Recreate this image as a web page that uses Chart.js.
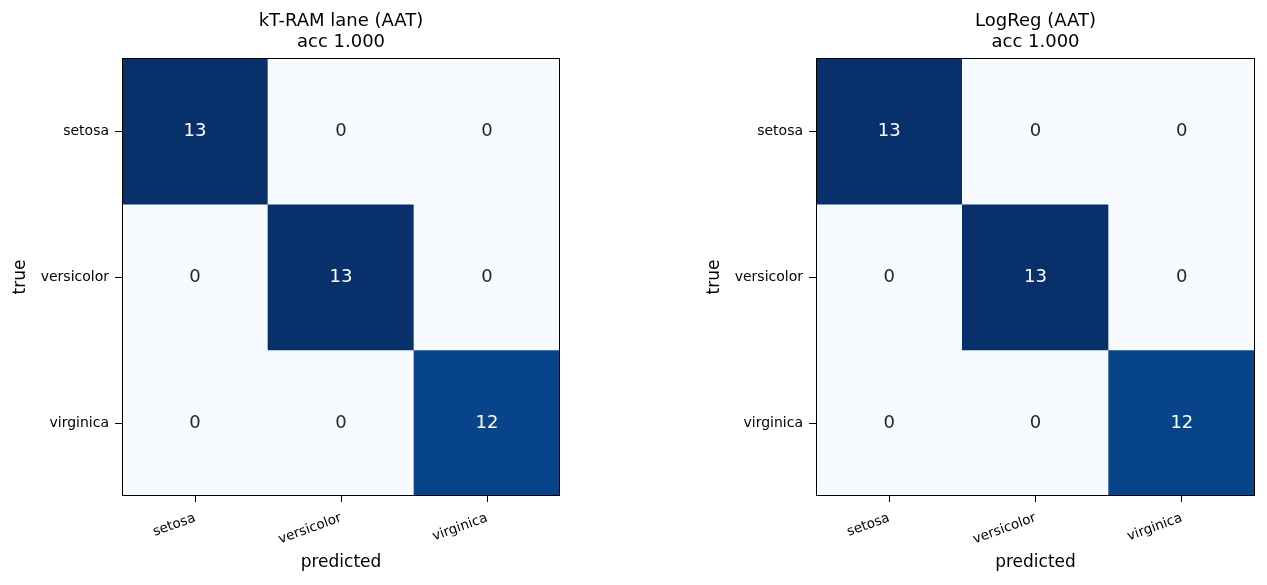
<!DOCTYPE html>
<html>
<head>
<meta charset="utf-8">
<script src="https://cdn.jsdelivr.net/npm/chart.js@4"></script>
<style>
  html, body { margin: 0; padding: 0; background: #fff; overflow: hidden; }
  .panel { position: absolute; top: 0; height: 585px; }
</style>
</head>
<body>
<div class="panel" id="p1" style="left:0;width:633px"><canvas id="c1"></canvas></div>
<div class="panel" id="p2" style="left:694px;width:573px"><canvas id="c2"></canvas></div>
<script>
// class names (both axes)
const classes = ['setosa', 'versicolor', 'virginica'];

// confusion matrices, rows = true, cols = predicted
const ktramCounts = [
  [13, 0, 0],
  [0, 13, 0],
  [0, 0, 12]
];
const logregCounts = [
  [13, 0, 0],
  [0, 13, 0],
  [0, 0, 12]
];

const ktramTitle = ['kT-RAM lane (AAT)', 'acc 1.000'];
const logregTitle = ['LogReg (AAT)', 'acc 1.000'];

Chart.defaults.font.family = '"DejaVu Sans", sans-serif';
Chart.defaults.color = '#000';

// matplotlib "Blues" anchors
const blues = ['#f7fbff', '#deebf7', '#c6dbef', '#9ecae1', '#6baed6', '#4292c6', '#2171b5', '#08519c', '#08306b'];
function hex(c) { return [1, 3, 5].map(i => parseInt(c.substr(i, 2), 16)); }
function bluesColor(t) {
  t = Math.max(0, Math.min(1, t));
  const pos = t * (blues.length - 1);
  const i = Math.min(Math.floor(pos), blues.length - 2);
  const f = pos - i;
  const a = hex(blues[i]), b = hex(blues[i + 1]);
  const rgb = a.map((v, k) => Math.round(v + (b[k] - v) * f));
  return `rgb(${rgb.join(',')})`;
}

// count labels inside the cells
const cellText = {
  id: 'cellText',
  afterDatasetsDraw(chart, args, opts) {
    const { ctx, scales: { x, y } } = chart;
    const m = opts.matrix;
    const max = Math.max(...m.flat());
    ctx.save();
    ctx.font = '18px "DejaVu Sans", sans-serif';
    ctx.textAlign = 'center';
    ctx.textBaseline = 'middle';
    m.forEach((row, i) => row.forEach((v, j) => {
      ctx.fillStyle = v > max / 2 ? '#fff' : '#262626';
      ctx.fillText(String(v), x.getPixelForValue(j), y.getPixelForValue(i + 0.5));
    }));
    ctx.restore();
  }
};

const frame = {
  id: 'frame',
  afterDraw(chart) {
    const { ctx, chartArea: a } = chart;
    ctx.save();
    ctx.strokeStyle = '#000';
    ctx.lineWidth = 1;
    ctx.strokeRect(Math.round(a.left) + 0.5, Math.round(a.top) + 0.5,
      Math.round(a.right - a.left) - 1, Math.round(a.bottom - a.top) - 1);
    ctx.restore();
  }
};

function makeMatrix(canvasId, matrix, title, padRight) {
  const max = Math.max(...matrix.flat());
  const datasets = matrix.map((row, i) => ({
    data: row.map(() => [i, i + 1]),
    backgroundColor: row.map(v => bluesColor(v / max)),
    borderWidth: 0,
    grouped: false,
    barPercentage: 1,
    categoryPercentage: 1
  }));

  return new Chart(document.getElementById(canvasId), {
    type: 'bar',
    data: { labels: classes, datasets: datasets },
    options: {
      responsive: true,
      maintainAspectRatio: false,
      animation: false,
      layout: { padding: { left: 0, right: padRight, top: 0, bottom: 0 } },
      plugins: {
        legend: { display: false },
        tooltip: { enabled: false },
        title: {
          display: true,
          text: title,
          fullSize: false,
          color: '#000',
          font: { size: 18, weight: 'normal', lineHeight: 1.17 },
          padding: { top: 11, bottom: 5 }
        },
        cellText: { matrix: matrix }
      },
      scales: {
        x: {
          type: 'category',
          offset: true,
          afterFit(s) { s.height = 89; },
          grid: { offset: false, drawOnChartArea: false, tickLength: 6, color: '#000' },
          border: { display: false },
          ticks: { font: { size: 13.5 }, color: '#000', minRotation: 20, maxRotation: 20, padding: 8 },
          title: { display: true, text: 'predicted', font: { size: 17 }, color: '#000', padding: { top: 0, bottom: 12 } }
        },
        y: {
          type: 'linear',
          min: 0,
          max: 3,
          reverse: true,
          afterFit(s) { s.width = 122; },
          afterBuildTicks(s) { s.ticks = classes.map((c, i) => ({ value: i + 0.5 })); },
          grid: { drawOnChartArea: false, tickLength: 7, color: '#000' },
          border: { display: false },
          ticks: {
            font: { size: 14 },
            color: '#000',
            padding: 6,
            callback: v => classes[Math.floor(v)]
          },
          title: { display: true, text: 'true', font: { size: 17 }, color: '#000', padding: { top: 10, bottom: 0 } }
        }
      }
    },
    plugins: [cellText, frame]
  });
}

makeMatrix('c1', ktramCounts, ktramTitle, 73);
makeMatrix('c2', logregCounts, logregTitle, 12);
</script>
</body>
</html>
